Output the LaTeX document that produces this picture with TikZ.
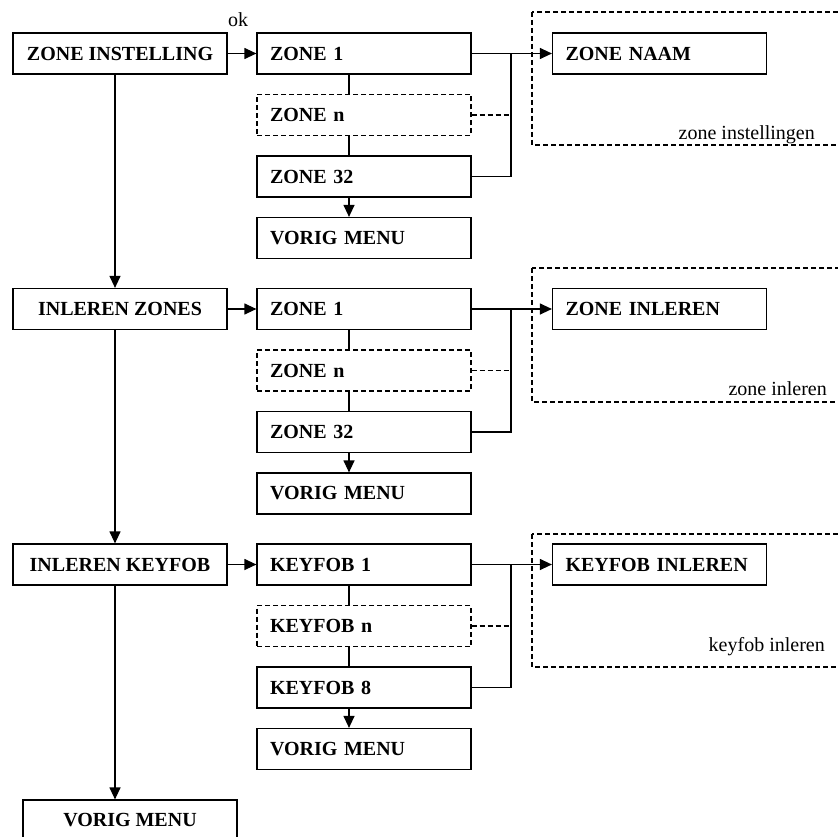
\documentclass[tikz,border=0pt]{standalone}
\usepackage{fontspec}
\setmainfont{Liberation Serif}
\usetikzlibrary{arrows.meta,positioning}

\tikzset{
  menu/.style={draw, line width=1.2pt, minimum width=214pt, minimum height=41pt,
    inner sep=0pt, font=\fontsize{20}{24}\selectfont\bfseries},
  item/.style={menu, text width=188pt, align=left},
  optional/.style={line width=1.2pt, dash pattern=on 5pt off 3pt},
  tip/.style={line width=1.2pt, -{Triangle[length=12pt,width=11pt]}},
  note/.style={font=\fontsize{20}{24}\selectfont, inner sep=0pt},
}

\begin{document}
\begin{tikzpicture}[x=1pt, y=-1pt]
  \useasboundingbox (0,0) rectangle (837,837);
  % one block per main menu entry
  \foreach \i/\ty/\head/\sub/\last/\act/\note/\nx/\ft/\fb in {
      1/33/ZONE INSTELLING/ZONE/32/ZONE NAAM/zone instellingen/815/21/112,
      2/288.5/INLEREN ZONES/ZONE/32/ZONE INLEREN/zone inleren/827/20.5/113.5,
      3/544/INLEREN KEYFOB/KEYFOB/8/KEYFOB INLEREN/keyfob inleren/825/10/123}{
    \node[menu] (h\i) at (120,\ty+20.5) {\head};
    \node[item] (a\i) at (364,\ty+20.5) {\sub\ 1};
    \node[item, optional] (b\i) at (364,\ty+82) {\sub\ n};
    \node[item] (c\i) at (364,\ty+143.5) {\sub\ \last};
    \node[item] (d\i) at (364,\ty+205) {VORIG MENU};
    \node[item] (e\i) at (659.5,\ty+20.5) {\act};
    \coordinate (bus\i) at (511,\ty+20.5);
    % settings frame, open to the right
    \draw[optional] (532,\ty-\ft) rectangle (880,\ty+\fb);
    \node[note, anchor=base east] (t\i) at (\nx,\ty+107) {\note};
    \draw[tip] (h\i) -- (a\i);
    \draw[tip] (a\i) -- (e\i);
    \draw[line width=1.2pt] ([xshift=-15pt]a\i.south) -- ([xshift=-15pt]b\i.north);
    \draw[line width=1.2pt] ([xshift=-15pt]b\i.south) -- ([xshift=-15pt]c\i.north);
    \draw[tip] ([xshift=-15pt]c\i.south) -- ([xshift=-15pt]d\i.north);
    \draw[line width=1.2pt] (c\i.east) -| (bus\i);
    \draw[optional] (b\i.east) -- (b\i.east -| bus\i);
  }
  \node[note, anchor=base] (ok) at (238,27) {ok};
  \node[menu] (back) at (130,820.5) {VORIG MENU};
  \draw[tip] ([xshift=-5pt]h1.south) -- ([xshift=-5pt]h2.north);
  \draw[tip] ([xshift=-5pt]h2.south) -- ([xshift=-5pt]h3.north);
  \draw[tip] ([xshift=-5pt]h3.south) -- ([xshift=-5pt]h3.south |- back.north);
\end{tikzpicture}
\end{document}
